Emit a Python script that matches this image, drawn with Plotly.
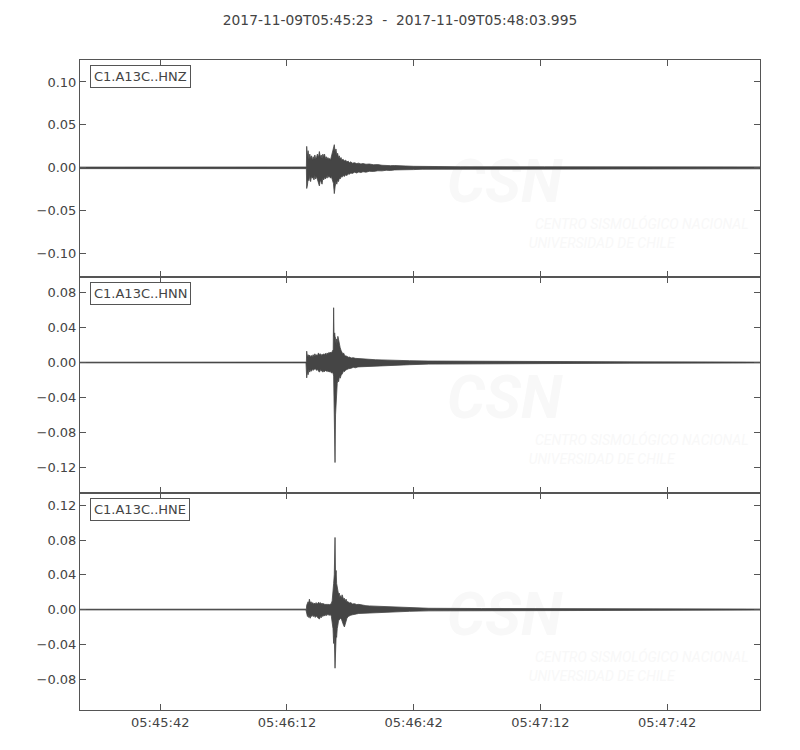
import pandas as pd
import plotly.graph_objects as go
from plotly.subplots import make_subplots

# ---------------- data ----------------
START = "2017-11-09 05:45:23"
END_OFFSET_S = 160.995
title_text = "2017-11-09T05:45:23  -  2017-11-09T05:48:03.995"

channels = ["C1.A13C..HNZ", "C1.A13C..HNN", "C1.A13C..HNE"]

# envelope (max / min per time) in seconds after START
hnz_t = [0, 10, 20, 30, 40, 50, 53.5, 53.6, 53.67, 53.85, 54.0, 54.2, 54.4, 54.6, 54.8, 55.0, 55.2,
         55.4, 55.6, 55.8, 56.0, 56.2, 56.45, 56.67, 56.9, 57.1, 57.31, 57.5, 57.7, 57.9, 58.1, 58.3,
         58.5, 58.7, 58.9, 59.1, 59.3, 59.5, 59.75, 60.0, 60.21, 60.4, 60.6, 60.8, 61.0, 61.2, 61.4,
         61.6, 61.8, 62.0, 62.3, 62.6, 62.9, 63.2, 63.5, 63.8, 64.1, 64.5, 65.0, 65.5, 66.0, 66.5,
         67.0, 67.7, 68.5, 69.5, 70.5, 71.5, 72.5, 73.5, 74.5, 75.5, 77, 79, 81, 83, 90, 110, 130,
         150, 161]
hnz_up = [0.0009, 0.0009, 0.0009, 0.0009, 0.0009, 0.0009, 0.0009, 0.001, 0.025, 0.012, 0.020, 0.010,
          0.016, 0.011, 0.014, 0.009, 0.013, 0.010, 0.015, 0.011, 0.012, 0.016, 0.012, 0.019, 0.012,
          0.015, 0.011, 0.016, 0.013, 0.016, 0.011, 0.013, 0.010, 0.012, 0.010, 0.011, 0.009, 0.013,
          0.016, 0.020, 0.027, 0.018, 0.022, 0.015, 0.017, 0.012, 0.014, 0.010, 0.012, 0.009, 0.010,
          0.008, 0.009, 0.007, 0.0078, 0.006, 0.007, 0.0055, 0.006, 0.005, 0.0055, 0.0045, 0.005,
          0.0042, 0.0045, 0.0036, 0.0038, 0.003, 0.0032, 0.0026, 0.0027, 0.0023, 0.0022, 0.0018,
          0.0017, 0.0015, 0.0013, 0.0012, 0.0012, 0.0011, 0.0011]
hnz_lo = [-0.0009, -0.0009, -0.0009, -0.0009, -0.0009, -0.0009, -0.0009, -0.001, -0.024, -0.020,
          -0.013, -0.015, -0.009, -0.016, -0.010, -0.012, -0.011, -0.014, -0.009, -0.013, -0.010,
          -0.015, -0.018, -0.021, -0.014, -0.016, -0.019, -0.012, -0.014, -0.011, -0.013, -0.010,
          -0.012, -0.009, -0.011, -0.010, -0.012, -0.010, -0.015, -0.018, -0.030, -0.022, -0.016,
          -0.019, -0.014, -0.016, -0.012, -0.013, -0.010, -0.011, -0.009, -0.010, -0.008, -0.009,
          -0.007, -0.0075, -0.006, -0.0065, -0.005, -0.006, -0.0048, -0.0055, -0.0045, -0.005,
          -0.004, -0.0042, -0.0034, -0.0035, -0.0028, -0.003, -0.0024, -0.0025, -0.002, -0.002,
          -0.0016, -0.0015, -0.0013, -0.0012, -0.0012, -0.0011, -0.0011]

hnn_t = [0, 20, 40, 53.5, 53.6, 53.67, 53.85, 54.0, 54.2, 54.4, 54.6, 54.8, 55.0, 55.2, 55.4, 55.6,
         55.8, 56.0, 56.2, 56.45, 56.67, 56.9, 57.1, 57.3, 57.5, 57.7, 57.9, 58.1, 58.3, 58.5, 58.7,
         58.9, 59.1, 59.3, 59.5, 59.75, 59.95, 60.05, 60.15, 60.3, 60.38, 60.5, 60.65, 60.76, 60.9,
         61.05, 61.23, 61.4, 61.6, 61.8, 62.0, 62.2, 62.4, 62.6, 62.9, 63.2, 63.5, 63.8, 64.2, 64.7,
         65.2, 65.8, 66.5, 67.2, 68.0, 69.0, 70.0, 71.5, 73, 75.5, 78, 82.6, 95, 110, 130, 161]
hnn_up = [0.0004, 0.0004, 0.0004, 0.0004, 0.0005, 0.013, 0.006, 0.009, 0.007, 0.0085, 0.006, 0.008,
          0.007, 0.009, 0.007, 0.010, 0.008, 0.009, 0.0075, 0.011, 0.009, 0.010, 0.008, 0.0095,
          0.0085, 0.010, 0.009, 0.0105, 0.009, 0.011, 0.010, 0.0115, 0.011, 0.012, 0.011, 0.013,
          0.015, 0.0628, 0.030, 0.034, 0.030, 0.028, 0.020, 0.027, 0.022, 0.030, 0.026, 0.020, 0.017,
          0.014, 0.012, 0.010, 0.011, 0.0085, 0.0075, 0.0072, 0.006, 0.0062, 0.0052, 0.0055, 0.0048,
          0.0045, 0.0042, 0.004, 0.0036, 0.0035, 0.0032, 0.003, 0.0027, 0.0023, 0.0021, 0.0017,
          0.0013, 0.001, 0.0008, 0.0005]
hnn_lo = [-0.0004, -0.0004, -0.0004, -0.0004, -0.0005, -0.0176, -0.010, -0.014, -0.008, -0.011,
          -0.008, -0.010, -0.007, -0.009, -0.007, -0.008, -0.007, -0.009, -0.008, -0.0095, -0.011,
          -0.008, -0.010, -0.009, -0.011, -0.0095, -0.0105, -0.009, -0.010, -0.0095, -0.0105, -0.010,
          -0.011, -0.010, -0.012, -0.011, -0.013, -0.0155, -0.030, -0.070, -0.1146, -0.060, -0.040,
          -0.046, -0.024, -0.020, -0.022, -0.016, -0.018, -0.015, -0.013, -0.012, -0.0095, -0.0105,
          -0.0085, -0.008, -0.0072, -0.0065, -0.0065, -0.0055, -0.006, -0.005, -0.0055, -0.0048,
          -0.0046, -0.0042, -0.004, -0.0037, -0.0034, -0.003, -0.0025, -0.0018, -0.0013, -0.001,
          -0.0008, -0.0005]

hne_t = [0, 20, 40, 53.5, 53.6, 53.67, 53.85, 54.0, 54.15, 54.31, 54.5, 54.7, 54.9, 55.1, 55.3, 55.5,
         55.7, 55.9, 56.1, 56.3, 56.5, 56.67, 56.9, 57.1, 57.3, 57.5, 57.7, 57.9, 58.1, 58.3, 58.5,
         58.7, 58.9, 59.1, 59.3, 59.5, 59.7, 59.9, 60.05, 60.2, 60.38, 60.5, 60.65, 60.76, 60.9,
         61.05, 61.2, 61.39, 61.55, 61.7, 61.9, 62.05, 62.2, 62.4, 62.6, 62.8, 63.0, 63.2, 63.5, 63.8,
         64.1, 64.5, 65.0, 65.5, 66.0, 66.8, 67.7, 68.5, 69.5, 70.5, 71.5, 73, 75.5, 78, 82.6, 95,
         110, 130, 161]
hne_up = [0.0004, 0.0004, 0.0004, 0.0004, 0.0005, 0.005, 0.007, 0.009, 0.007, 0.012, 0.008, 0.009,
          0.007, 0.008, 0.006, 0.0075, 0.006, 0.008, 0.0065, 0.007, 0.0085, 0.007, 0.008, 0.006,
          0.0075, 0.006, 0.007, 0.0055, 0.0065, 0.0055, 0.0065, 0.0055, 0.006, 0.0055, 0.0065, 0.007,
          0.010, 0.018, 0.030, 0.040, 0.083, 0.040, 0.045, 0.030, 0.025, 0.022, 0.018, 0.019, 0.014,
          0.016, 0.013, 0.017, 0.015, 0.012, 0.013, 0.010, 0.012, 0.009, 0.009, 0.0075, 0.008,
          0.0065, 0.0068, 0.0058, 0.006, 0.005, 0.0045, 0.0042, 0.004, 0.0037, 0.0035, 0.003, 0.0025,
          0.0021, 0.0015, 0.0012, 0.001, 0.0008, 0.0006]
hne_lo = [-0.0004, -0.0004, -0.0004, -0.0004, -0.0005, -0.004, -0.008, -0.006, -0.009, -0.008,
          -0.010, -0.007, -0.008, -0.006, -0.008, -0.007, -0.009, -0.0075, -0.008, -0.0095, -0.010,
          -0.011, -0.008, -0.0095, -0.007, -0.008, -0.0065, -0.0075, -0.006, -0.007, -0.0055,
          -0.0065, -0.0058, -0.0065, -0.006, -0.0075, -0.012, -0.022, -0.039, -0.030, -0.0675, -0.050,
          -0.030, -0.032, -0.022, -0.018, -0.013, -0.012, -0.011, -0.010, -0.011, -0.012, -0.014,
          -0.018, -0.020, -0.017, -0.013, -0.010, -0.008, -0.007, -0.0065, -0.006, -0.0052, -0.005,
          -0.0045, -0.004, -0.0035, -0.0034, -0.003, -0.0031, -0.0028, -0.0027, -0.0025, -0.002,
          -0.0015, -0.0012, -0.001, -0.0008, -0.0006]

y_ranges = [[-0.1267, 0.1256], [-0.1499, 0.0984], [-0.1156, 0.1338]]
y_dticks = [0.05, 0.04, 0.04]

watermark_big = "CSN"
watermark_line1 = "CENTRO SISMOLÓGICO NACIONAL"
watermark_line2 = "UNIVERSIDAD DE CHILE"

# ---------------- figure ----------------
start = pd.Timestamp(START)
end = start + pd.Timedelta(seconds=END_OFFSET_S)


def to_dt(secs):
    return [start + pd.Timedelta(seconds=s) for s in secs]


WAVE = "#454545"
AX = "#555555"
TXT = "#444444"
WM = "#f8f8f8"

W, H = 800, 750
ML, MR, MT, MB = 72, 48, 52, 48
plot_h = H - MT - MB

fig = make_subplots(rows=3, cols=1, shared_xaxes=True, vertical_spacing=0)

series = [(hnz_t, hnz_up, hnz_lo), (hnn_t, hnn_up, hnn_lo), (hne_t, hne_up, hne_lo)]

for i, (t, up, lo) in enumerate(series):
    row = i + 1
    lo_r, hi_r = y_ranges[i]
    span = hi_r - lo_r
    # watermark (drawn first, underneath the trace)
    fig.add_trace(go.Scatter(
        x=to_dt([100.5]), y=[hi_r - span * 0.585], mode="text", text=[watermark_big],
        textfont=dict(family="Roboto", size=60, color=WM, weight="bold", style="italic"),
        hoverinfo="skip", showlegend=False), row=row, col=1)
    fig.add_trace(go.Scatter(
        x=to_dt([133.0]), y=[hi_r - span * 0.762], mode="text", text=[watermark_line1],
        textfont=dict(family="Roboto", size=14, color=WM, style="italic"),
        hoverinfo="skip", showlegend=False), row=row, col=1)
    fig.add_trace(go.Scatter(
        x=to_dt([123.5]), y=[hi_r - span * 0.85], mode="text", text=[watermark_line2],
        textfont=dict(family="Roboto", size=14, color=WM, style="italic"),
        hoverinfo="skip", showlegend=False), row=row, col=1)
    # waveform envelope
    xs = to_dt(list(t) + list(t)[::-1])
    ys = list(up) + list(lo)[::-1]
    fig.add_trace(go.Scatter(
        x=xs, y=ys, mode="lines", fill="toself", fillcolor=WAVE,
        line=dict(color=WAVE, width=0.8), hoverinfo="skip", showlegend=False), row=row, col=1)

    fig.update_yaxes(
        row=row, col=1, range=y_ranges[i], dtick=y_dticks[i], tick0=0, tickformat=".2f",
        ticks="inside", ticklen=6, tickcolor=AX, showline=True, linecolor=AX, linewidth=1,
        mirror="ticks", showgrid=False, zeroline=False,
        tickfont=dict(family="DejaVu Sans", size=13, color=TXT))
    fig.update_xaxes(
        row=row, col=1, type="date", range=[start, end],
        tick0=start.normalize() + pd.Timedelta(hours=5, minutes=45, seconds=42),
        dtick=30000, tickformat="%H:%M:%S",
        ticks="inside", ticklen=6, tickcolor=AX, showline=True, linecolor=AX, linewidth=1,
        mirror="ticks", showgrid=False, zeroline=False,
        showticklabels=(row == 3),
        tickfont=dict(family="DejaVu Sans", size=13, color=TXT))

# panel labels
domains = [fig.layout.yaxis.domain, fig.layout.yaxis2.domain, fig.layout.yaxis3.domain]
for i, name in enumerate(channels):
    top = domains[i][1]
    fig.add_annotation(
        xref="paper", yref="paper", x=0.0147, y=top - 5 / plot_h,
        xanchor="left", yanchor="top", text=name, showarrow=False,
        font=dict(family="DejaVu Sans", size=13, color=TXT),
        bgcolor="white", bordercolor=AX, borderwidth=1, borderpad=3)

fig.update_layout(
    width=W, height=H,
    margin=dict(l=ML, r=MR, t=MT, b=MB),
    paper_bgcolor="white", plot_bgcolor="white",
    title=dict(text=title_text, x=392 / W, xanchor="center", y=1 - 12 / H, yanchor="middle",
               font=dict(family="DejaVu Sans", size=13.8, color=TXT)),
    showlegend=False,
)

fig.write_html("out.html")
